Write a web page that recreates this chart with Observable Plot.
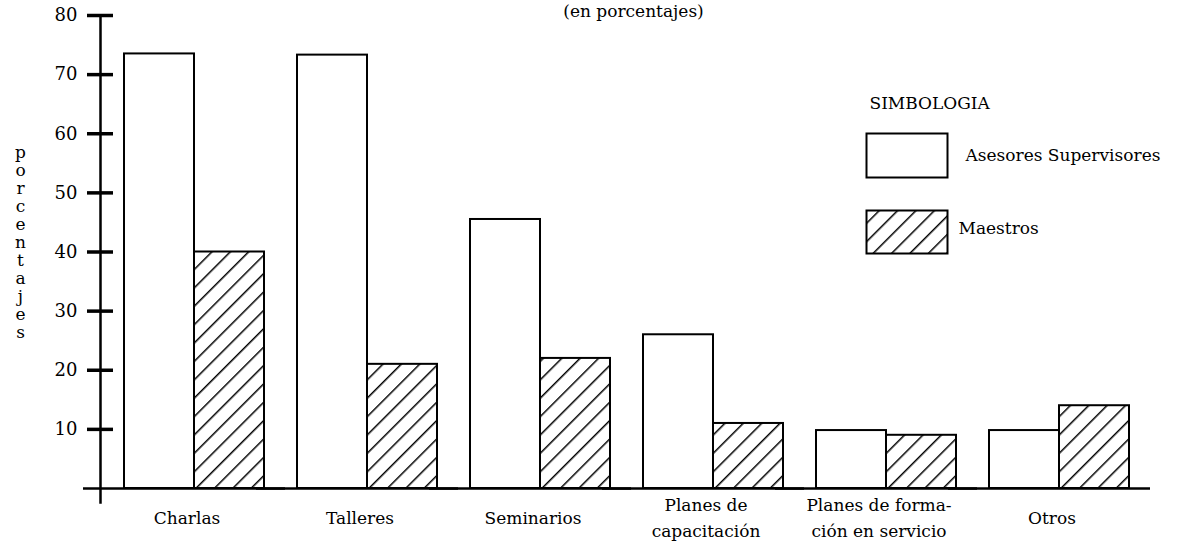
<!DOCTYPE html>
<html>
<head>
<meta charset="utf-8">
<script src="https://cdn.jsdelivr.net/npm/d3@7"></script>
<script src="https://cdn.jsdelivr.net/npm/@observablehq/plot@0.6"></script>
<style>
  html, body { margin: 0; padding: 0; background: #ffffff; }
  #chart { width: 1181px; height: 546px; }
</style>
</head>
<body>
<div id="chart"></div>
<script>
// ---- Data ----
const categories = ["Charlas", "Talleres", "Seminarios", "Planes de capacitación", "Planes de formación en servicio", "Otros"];
const tickLabels = ["Charlas", "Talleres", "Seminarios", "Planes de\ncapacitación", "Planes de forma-\nción en servicio", "Otros"];
const seriesNames = ["Asesores Supervisores", "Maestros"];
const asesores = [73.5, 73.3, 45.5, 26, 9.8, 9.8];
const maestros = [40, 21, 22, 11, 9, 14];
const yTicks = [10, 20, 30, 40, 50, 60, 70, 80];
const titleText = "(en porcentajes)";
const yLabelText = "porcentajes";
const legendTitle = "SIMBOLOGIA";

const data = categories.flatMap((c, i) => [
  {category: c, series: seriesNames[0], value: asesores[i]},
  {category: c, series: seriesNames[1], value: maestros[i]}
]);

const FONT = "DejaVu Serif";

const svg = Plot.plot({
  width: 1181,
  height: 546,
  marginLeft: 97,
  marginRight: 41,
  marginTop: 15,
  marginBottom: 58,
  style: {fontFamily: FONT, fontSize: "17px", color: "black", background: "white", overflow: "visible"},
  fx: {domain: categories, padding: 0, label: null},
  x: {domain: seriesNames, paddingInner: 0, paddingOuter: 0.234, align: 0.73, axis: null},
  y: {domain: [0, 80], axis: null},
  marks: [
    // bars
    Plot.barY(data.filter(d => d.series === seriesNames[0]), {
      fx: "category", x: "series", y: "value",
      fill: "white", stroke: "black", strokeWidth: 2
    }),
    Plot.barY(data.filter(d => d.series === seriesNames[1]), {
      fx: "category", x: "series", y: "value",
      fill: "url(#hatch)", stroke: "black", strokeWidth: 2
    }),
    // baseline
    Plot.ruleY([0], {stroke: "black", strokeWidth: 2.5, insetLeft: -17, insetRight: -12}),
    // y axis line
    Plot.frame({anchor: "left", facetAnchor: "left", stroke: "black", strokeWidth: 2.5, insetBottom: -14}),
    // y axis ticks + labels
    Plot.axisY({ticks: yTicks, tickSize: 26, dx: 13, tickPadding: 10, strokeWidth: 3.5, label: null, fontSize: 18}),
    // category labels
    Plot.axisFx({
      anchor: "bottom", tickSize: 0, tickPadding: 27, label: null,
      lineAnchor: "middle", lineHeight: 1.55, fontSize: 17,
      tickFormat: d => tickLabels[categories.indexOf(d)]
    }),
    // title
    Plot.text([titleText], {
      text: d => d, frameAnchor: "top-left", dx: 533, dy: -4,
      textAnchor: "middle", lineAnchor: "middle", facetAnchor: "left", fontSize: 17
    }),
    // vertical y label, one letter per line
    Plot.text([yLabelText], {
      text: d => d.split("").join("\n"), frameAnchor: "top-left", dx: -80, dy: 227,
      textAnchor: "middle", lineAnchor: "middle", lineHeight: 1.06, facetAnchor: "left", fontSize: 17
    }),
    // legend
    Plot.text([legendTitle], {
      text: d => d, frameAnchor: "top-left", dx: 769, dy: 88,
      textAnchor: "start", lineAnchor: "middle", facetAnchor: "left", fontSize: 17
    }),
    Plot.frame({
      facetAnchor: "left", fill: "white", stroke: "black", strokeWidth: 2,
      insetLeft: 766, insetRight: -674, insetTop: 118, insetBottom: 311
    }),
    Plot.frame({
      facetAnchor: "left", fill: "url(#hatch)", stroke: "black", strokeWidth: 2,
      insetLeft: 766, insetRight: -674, insetTop: 195, insetBottom: 235
    }),
    Plot.text([seriesNames[0]], {
      text: d => d, frameAnchor: "top-left", dx: 865, dy: 140,
      textAnchor: "start", lineAnchor: "middle", facetAnchor: "left", fontSize: 17
    }),
    Plot.text([seriesNames[1]], {
      text: d => d, frameAnchor: "top-left", dx: 858, dy: 213,
      textAnchor: "start", lineAnchor: "middle", facetAnchor: "left", fontSize: 17
    })
  ]
});

// hatch pattern definition
const ns = "http://www.w3.org/2000/svg";
const defs = document.createElementNS(ns, "defs");
defs.innerHTML = '<pattern id="hatch" patternUnits="userSpaceOnUse" width="13" height="13" patternTransform="rotate(45)">' +
  '<rect width="13" height="13" fill="white"></rect>' +
  '<line x1="0" y1="0" x2="0" y2="13" stroke="black" stroke-width="3"></line></pattern>';
svg.insertBefore(defs, svg.firstChild);

document.getElementById("chart").appendChild(svg);
</script>
</body>
</html>
